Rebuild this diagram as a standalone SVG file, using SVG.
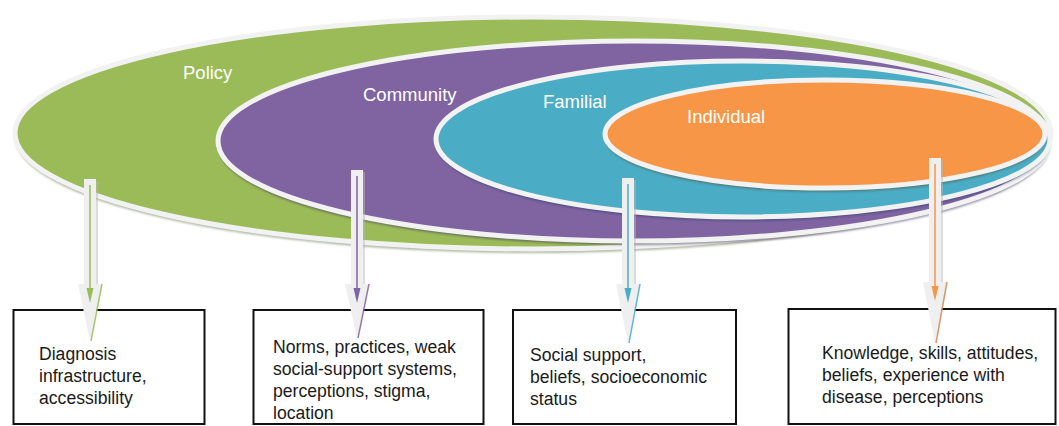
<svg xmlns="http://www.w3.org/2000/svg" width="1059" height="426" viewBox="0 0 1059 426">
<defs>
<style>
.ring{stroke:#f2f2f2;stroke-width:5}
.shadow{opacity:0.55}
.lbl{font-family:"Liberation Sans",Arial,sans-serif;font-size:18.5px;fill:#ffffff}
.box{fill:#ffffff;stroke:#111111;stroke-width:2}
.txt{font-family:"Liberation Sans",Arial,sans-serif;font-size:17.6px;fill:#1a1a1a}
.arrowbody{fill:#efefef}
.shaftshadow{stroke:#b8b8b8;stroke-width:1.2;opacity:0.8}
</style>
<filter id="blur" x="-5%" y="-5%" width="110%" height="110%"><feGaussianBlur stdDeviation="1"/></filter>
</defs>
<rect width="1059" height="426" fill="#ffffff"/>

<g id="policy">
<ellipse class="shadow" cx="533" cy="137" rx="518" ry="116" fill="#6d7f56" filter="url(#blur)"/>
<ellipse class="ring" cx="533" cy="133" rx="518" ry="116" fill="#9bbb59"/>
<text class="lbl" x="183" y="79">Policy</text>
</g>
<g id="community">
<ellipse class="shadow" cx="634" cy="145" rx="416" ry="100" fill="#3f3456" filter="url(#blur)"/>
<ellipse class="ring" cx="634" cy="141" rx="416" ry="100" fill="#8064a2"/>
<text class="lbl" x="363" y="101">Community</text>
</g>
<g id="familial">
<ellipse class="shadow" cx="743" cy="143" rx="307" ry="78" fill="#2d3f6a" filter="url(#blur)"/>
<ellipse class="ring" cx="743" cy="139" rx="307" ry="78" fill="#4bacc6"/>
<text class="lbl" x="543" y="108">Familial</text>
</g>
<g id="individual">
<ellipse class="shadow" cx="825" cy="138" rx="220" ry="54" fill="#4f5a40" filter="url(#blur)"/>
<ellipse class="ring" cx="825" cy="134" rx="220" ry="54" fill="#f79646"/>
<text class="lbl" x="687" y="123">Individual</text>
</g>

<g id="box-policy">
<rect class="box" x="13.5" y="310" width="191" height="114"/>
<text class="txt"><tspan x="39" y="360">Diagnosis</tspan><tspan x="39" y="382">infrastructure,</tspan><tspan x="39" y="404">accessibility</tspan></text>
</g>
<g id="box-community">
<rect class="box" x="253.5" y="310" width="230" height="114"/>
<text class="txt"><tspan x="273" y="353">Norms, practices, weak</tspan><tspan x="273" y="375">social-support systems,</tspan><tspan x="273" y="397">perceptions, stigma,</tspan><tspan x="273" y="419">location</tspan></text>
</g>
<g id="box-familial">
<rect class="box" x="513" y="310" width="223" height="114"/>
<text class="txt"><tspan x="530" y="361">Social support,</tspan><tspan x="530" y="383">beliefs, socioeconomic</tspan><tspan x="530" y="405">status</tspan></text>
</g>
<g id="box-individual">
<rect class="box" x="788.5" y="309" width="267" height="115"/>
<text class="txt"><tspan x="822" y="359">Knowledge, skills, attitudes,</tspan><tspan x="822" y="381">beliefs, experience with</tspan><tspan x="822" y="403">disease, perceptions</tspan></text>
</g>

<g id="connectors">
<g id="arrow-policy">
<line class="shaftshadow" x1="97" y1="181" x2="97" y2="284"/>
<path class="arrowbody" d="M84 179 H96 V284 H102 L90 341 L78 284 H84 Z"/>
<line x1="90" y1="185" x2="90" y2="290" stroke="#9bbb59" stroke-width="1.5"/>
<path d="M86.5 288 H93.5 L90 303 Z" fill="#9bbb59"/>
<line x1="102" y1="284" x2="91" y2="341" stroke="#9bbb59" stroke-width="1.5" opacity="0.85"/>
</g>
<g id="arrow-community">
<line class="shaftshadow" x1="364" y1="172" x2="364" y2="284"/>
<path class="arrowbody" d="M351 170 H363 V284 H369 L357 338 L345 284 H351 Z"/>
<line x1="357" y1="176" x2="357" y2="290" stroke="#8064a2" stroke-width="1.5"/>
<path d="M353.5 288 H360.5 L357 303 Z" fill="#8064a2"/>
<line x1="369" y1="284" x2="358" y2="338" stroke="#8064a2" stroke-width="1.5" opacity="0.85"/>
</g>
<g id="arrow-familial">
<line class="shaftshadow" x1="635" y1="180" x2="635" y2="284"/>
<path class="arrowbody" d="M622 178 H634 V284 H640 L628 343 L616 284 H622 Z"/>
<line x1="628" y1="184" x2="628" y2="290" stroke="#4bacc6" stroke-width="1.5"/>
<path d="M624.5 288 H631.5 L628 303 Z" fill="#4bacc6"/>
<line x1="640" y1="284" x2="629" y2="343" stroke="#4bacc6" stroke-width="1.5" opacity="0.85"/>
</g>
<g id="arrow-individual">
<line class="shaftshadow" x1="942" y1="160" x2="942" y2="282"/>
<path class="arrowbody" d="M929 158 H941 V282 H947 L935 343 L923 282 H929 Z"/>
<line x1="935" y1="164" x2="935" y2="288" stroke="#f79646" stroke-width="1.5"/>
<path d="M931.5 286 H938.5 L935 301 Z" fill="#f79646"/>
<line x1="947" y1="282" x2="936" y2="343" stroke="#c98a55" stroke-width="1.5" opacity="0.85"/>
</g>
</g>
</svg>
